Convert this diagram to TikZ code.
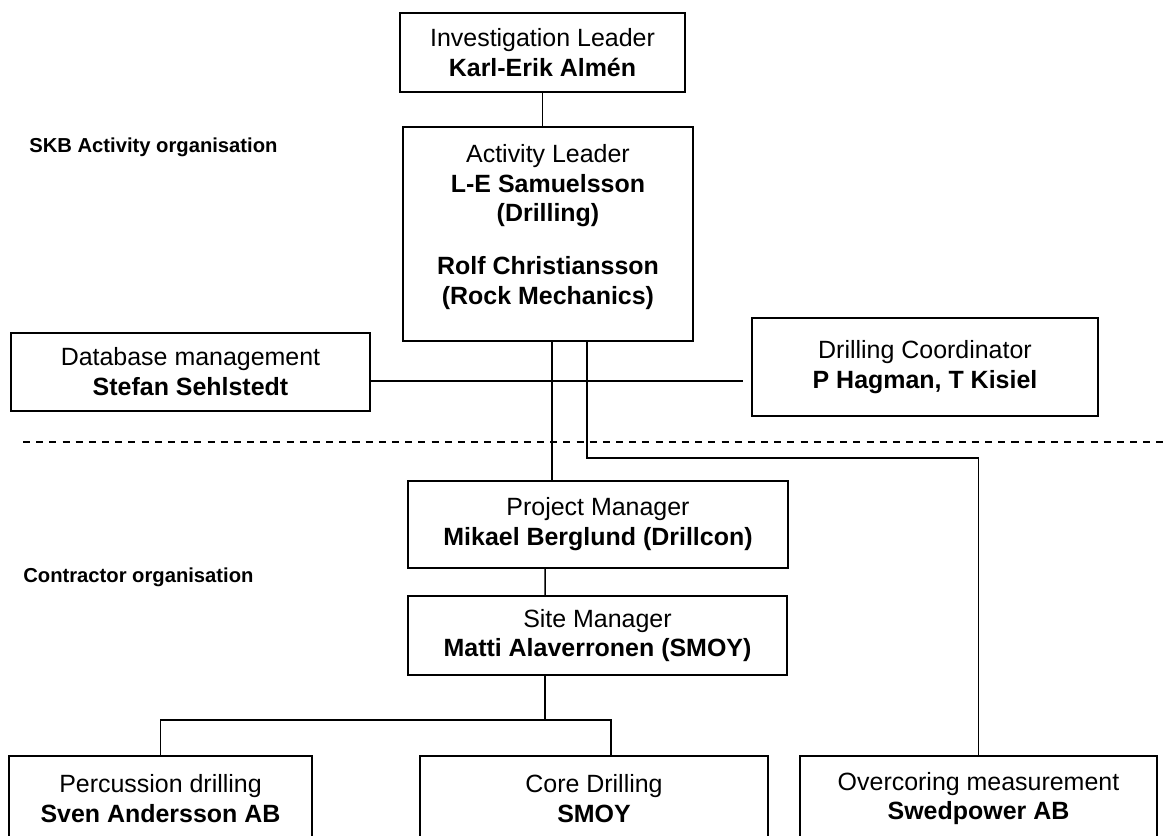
\documentclass[tikz,border=0pt]{standalone}
\usepackage{fontspec}
\setmainfont{Liberation Sans}
\usetikzlibrary{calc}

\begin{document}
\begin{tikzpicture}[
  font=\fontsize{14.2}{17}\selectfont,
  unit/.style={draw, line width=0.9pt, align=center, inner sep=0pt},
  link/.style={line width=0.85pt},
  sep/.style={line width=0.8pt, dash pattern=on 4pt off 3.5pt},
  org/.style={font=\fontsize{11.5}{13}\selectfont\bfseries, anchor=west, inner sep=0pt},
]
\newcommand{\ttl}[2]{#1\\\textbf{#2}}

\useasboundingbox (0,0) rectangle (23.34,-16.72);
\clip (0,0) rectangle (23.34,-16.72);

% ------------------------------------------------------------------ SKB side
\node[org] (skb) at (0.58,-2.94) {SKB Activity organisation};
\node[unit, minimum width=5.7cm, minimum height=1.58cm] (il) at (10.85,-1.05)
  {\ttl{Investigation Leader}{Karl-Erik Almén}};
\node[unit, minimum width=5.8cm, minimum height=4.28cm] (al) at (10.96,-4.68)
  {Activity Leader\\\textbf{L-E Samuelsson}\\\textbf{(Drilling)}\\[13pt]
   \textbf{Rolf Christiansson}\\\textbf{(Rock Mechanics)}\\[-6pt]\mbox{}};
\node[unit, minimum width=7.18cm, minimum height=1.56cm] (db) at (3.81,-7.44)
  {\ttl{Database management}{Stefan Sehlstedt}};
\node[unit, minimum width=6.92cm, minimum height=1.96cm] (dc) at (18.5,-7.34)
  {\ttl{Drilling Coordinator}{P Hagman, T Kisiel}};

% ------------------------------------------------------------------ border
\draw[sep] (0.46,-8.84) -- (23.4,-8.84);

% ------------------------------------------------------------------ contractor side
\node[org] (con) at (0.46,-11.54) {Contractor organisation};
\node[unit, minimum width=7.6cm, minimum height=1.74cm] (pm) at (11.96,-10.49)
  {\ttl{Project Manager}{Mikael Berglund (Drillcon)}};
\node[unit, minimum width=7.58cm, minimum height=1.58cm] (sm) at (11.95,-12.71)
  {\ttl{Site Manager}{Matti Alaverronen (SMOY)}};
\node[unit, minimum width=6.06cm, minimum height=1.7cm] (perc) at (3.21,-15.97)
  {\ttl{Percussion drilling}{Sven Andersson AB}};
\node[unit, minimum width=6.96cm, minimum height=1.7cm] (core) at (11.88,-15.97)
  {\ttl{Core Drilling}{SMOY}};
\node[unit, minimum width=7.14cm, minimum height=1.7cm] (over) at (19.57,-15.97)
  {\ttl{Overcoring measurement}{Swedpower AB}};

% ------------------------------------------------------------------ lines
\draw[link] (il.south) -- (il.south |- al.north);
\draw[link] ($(db.east)+(0,-0.18)$) coordinate (hl) -- ($(dc.west |- hl)+(-0.16,0)$);
\draw[link] ($(al.south)+(0.08,0)$) coordinate (ta) -- (ta |- pm.north);
\draw[line width=1.6pt] ($(ta |- hl)+(-0.72,0)$) -- (ta |- hl);
\draw[link] ($(al.south)+(0.78,0)$) coordinate (tb) -- ++(0,-2.32) -| (over.north);
\draw[link] ([xshift=-1.06cm]pm.south) -- ([xshift=-1.05cm]sm.north);
\draw[link] ([xshift=-1.05cm]sm.south) -- ++(0,-0.88) coordinate (fork);
\coordinate (cn) at ($(core.north)+(0.34,0)$);
\draw[link] (perc.north) -- (perc.north |- fork) -- (fork -| cn) -- (cn);
\end{tikzpicture}
\end{document}
